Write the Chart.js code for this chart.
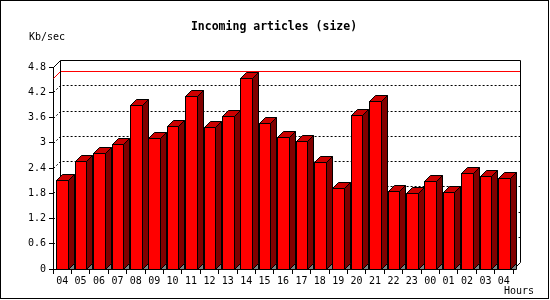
<!DOCTYPE html>
<html><head><meta charset="utf-8">
<script src="https://cdn.jsdelivr.net/npm/chart.js@4/dist/chart.umd.min.js"></script>
<style>html,body{margin:0;padding:0;background:#fff}canvas{display:block}</style>
</head><body>
<canvas id="c" width="550" height="300"></canvas>
<script>
const hours = ['04','05','06','07','08','09','10','11','12','13','14','15','16','17','18','19','20','21','22','23','00','01','02','03','04'];
const kbPerSec = [2.11,2.57,2.75,2.98,3.90,3.11,3.40,4.11,3.37,3.64,4.53,3.46,3.13,3.03,2.54,1.92,3.66,3.99,1.85,1.80,2.08,1.82,2.27,2.20,2.16];
const yTicks = [0,0.6,1.2,1.8,2.4,3,3.6,4.2,4.8];
const chartTitle = 'Incoming articles (size)';
const yUnit = 'Kb/sec';
const xUnit = 'Hours';

const MONO = '"DejaVu Sans Mono", "Liberation Mono", monospace';
const D = 7;   // wall depth
const BD = 6;  // bar depth

const threeD = {
  id: 'threeD',
  beforeDraw(chart) {
    const ctx = chart.ctx;
    ctx.save();
    ctx.fillStyle = '#fff';
    ctx.fillRect(0, 0, chart.width, chart.height);
    ctx.restore();
  },
  beforeDatasetsDraw(chart) {
    const { ctx, chartArea: a, scales: { y } } = chart;
    const L = a.left + 0.5, R = Math.round(a.right) + 0.5, T = Math.round(a.top) + 0.5, B = Math.round(a.bottom) + 0.5;
    ctx.save();
    ctx.lineWidth = 1;
    ctx.strokeStyle = '#000';
    // dotted grid on back & side walls
    ctx.setLineDash([2, 2]);
    yTicks.forEach(v => {
      if (v <= yTicks[0] || v >= yTicks[yTicks.length - 1]) return;
      const py = Math.round(y.getPixelForValue(v)) + 0.5;
      ctx.beginPath();
      ctx.moveTo(L, py);
      ctx.lineTo(L + D, py - D);
      ctx.lineTo(R + D, py - D);
      ctx.stroke();
    });
    ctx.setLineDash([]);
    // max line in red
    const mx = Math.max(...kbPerSec);
    const pm = Math.round(y.getPixelForValue(mx)) + 0.5;
    ctx.strokeStyle = '#ff0000';
    ctx.beginPath();
    ctx.moveTo(L, pm);
    ctx.lineTo(L + D, pm - D);
    ctx.lineTo(R + D, pm - D);
    ctx.stroke();
    // frame
    ctx.strokeStyle = '#000';
    ctx.beginPath();
    ctx.moveTo(L, T);
    ctx.lineTo(L + D, T - D);
    ctx.lineTo(R + D, T - D);
    ctx.lineTo(R + D, B - D);
    ctx.lineTo(R, B);
    ctx.moveTo(L + D, T - D);
    ctx.lineTo(L + D, B - D);
    ctx.stroke();
    ctx.restore();
  },
  afterDatasetsDraw(chart) {
    const { ctx } = chart;
    const meta = chart.getDatasetMeta(0);
    ctx.save();
    ctx.lineWidth = 1;
    ctx.strokeStyle = '#000';
    meta.data.forEach(el => {
      const p = el.getProps(['x', 'y', 'base', 'width'], true);
      const l = Math.round(p.x - p.width / 2) + 0.5;
      const r = Math.round(p.x + p.width / 2) + 0.5;
      const t = Math.round(p.y) + 0.5;
      const b = Math.round(p.base) + 0.5;
      // front
      ctx.fillStyle = '#ff0000';
      ctx.fillRect(l, t, r - l, b - t);
      ctx.strokeRect(l, t, r - l, b - t);
      // floor shadow triangle
      ctx.fillStyle = '#808080';
      ctx.beginPath();
      ctx.moveTo(r, b); ctx.lineTo(r + BD, b - BD); ctx.lineTo(r + BD, b); ctx.closePath();
      ctx.fill(); ctx.stroke();
      // side
      ctx.fillStyle = '#800000';
      ctx.beginPath();
      ctx.moveTo(r, t); ctx.lineTo(r + BD, t - BD); ctx.lineTo(r + BD, b - BD); ctx.lineTo(r, b); ctx.closePath();
      ctx.fill(); ctx.stroke();
      // top
      ctx.fillStyle = '#cc0000';
      ctx.beginPath();
      ctx.moveTo(l, t); ctx.lineTo(l + BD, t - BD); ctx.lineTo(r + BD, t - BD); ctx.lineTo(r, t); ctx.closePath();
      ctx.fill(); ctx.stroke();
    });
    ctx.restore();
  },
  afterDraw(chart) {
    const { ctx } = chart;
    ctx.save();
    ctx.fillStyle = '#000';
    ctx.textBaseline = 'middle';
    ctx.font = 'bold 11.5px ' + MONO;
    ctx.textAlign = 'center';
    ctx.fillText(chartTitle, 274, 27);
    ctx.font = '10px ' + MONO;
    ctx.textAlign = 'left';
    ctx.fillText(yUnit, 29, 37);
    ctx.fillText(xUnit, 504, 291.5);
    ctx.strokeStyle = '#000';
    ctx.lineWidth = 1;
    ctx.strokeRect(0.5, 0.5, 548, 298);
    ctx.restore();
  }
};

new Chart(document.getElementById('c'), {
  type: 'bar',
  data: {
    labels: hours,
    datasets: [{
      data: kbPerSec,
      backgroundColor: 'rgba(0,0,0,0)',
      borderWidth: 0,
      barPercentage: 0.63,
      categoryPercentage: 1
    }]
  },
  options: {
    responsive: false,
    animation: false,
    events: [],
    layout: { padding: { top: 67, right: 37, left: 0, bottom: 0 } },
    plugins: { legend: { display: false }, tooltip: { enabled: false }, title: { display: false } },
    scales: {
      x: {
        type: 'category',
        offset: true,
        grid: { display: true, drawOnChartArea: false, drawTicks: true, tickLength: 5, color: '#000', offset: true },
        border: { display: true, color: '#000' },
        ticks: { font: { family: MONO, size: 10 }, color: '#000', padding: 1, maxRotation: 0, autoSkip: false },
        afterFit(scale) { scale.height = 31; }
      },
      y: {
        min: 0, max: 4.8,
        afterBuildTicks(scale) { scale.ticks = yTicks.map(v => ({ value: v })); },
        grid: { display: true, drawOnChartArea: false, drawTicks: true, tickLength: 4, color: '#000' },
        border: { display: true, color: '#000' },
        ticks: { font: { family: MONO, size: 10 }, color: '#000', padding: 3, callback: v => String(+(+v).toFixed(1)) },
        afterFit(scale) { scale.width = 53; }
      }
    }
  },
  plugins: [threeD]
});
</script>
</body></html>
